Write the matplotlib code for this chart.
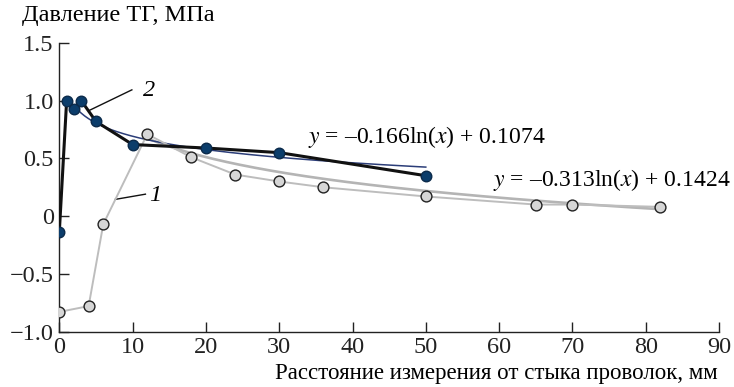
import numpy as np
import matplotlib
matplotlib.use("Agg")
import matplotlib.pyplot as plt

plt.rcParams['font.family'] = ['Liberation Serif', 'DejaVu Serif']
plt.rcParams['mathtext.fontset'] = 'stix'

# Series 1 (light gray)
x1 = [0, 4, 6, 12, 18, 24, 30, 36, 50, 65, 70, 82]
y1 = [-0.83, -0.78, -0.07, 0.71, 0.51, 0.36, 0.30, 0.25, 0.17, 0.10, 0.10, 0.08]
# Series 2 (dark blue)
x2 = [0, 1, 2, 3, 5, 10, 20, 30, 50]
y2 = [-0.14, 1.0, 0.93, 1.0, 0.82, 0.62, 0.59, 0.55, 0.35]

# Logarithmic trend lines (coefficients)
trend2_a, trend2_b, trend2_range = -0.166, 1.074, (2, 50)
trend1_a, trend1_b, trend1_range = -0.32, 1.47, (12, 81.5)

xticks = [0, 10, 20, 30, 40, 50, 60, 70, 80, 90]
yticks = [-1.0, -0.5, 0, 0.5, 1.0, 1.5]
yticklabels = ['−1.0', '−0.5', '0', '0.5', '1.0', '1.5']

FS = 17.5

fig = plt.figure(figsize=(7.34, 3.87), dpi=100)
ax = fig.add_axes([59.3 / 734, 1 - 331.5 / 387, (719 - 59.3) / 734, (331.5 - 43) / 387])

# trend lines
tx1 = np.linspace(*trend1_range, 200)
ax.plot(tx1, trend1_a * np.log(tx1) + trend1_b, color='#b4b4b4', lw=1.9, zorder=2)
tx2 = np.linspace(*trend2_range, 200)
ax.plot(tx2, trend2_a * np.log(tx2) + trend2_b, color='#2b3d78', lw=1.1, zorder=3)

# series
ax.plot(x1, y1, color='#bdbdbd', lw=1.4, marker='o', ms=7.8, mfc='#d6d6d6',
        mec='#222222', mew=1.0, zorder=4)
ax.plot(x2, y2, color='#111111', lw=2.2, marker='o', ms=7.6, mfc='#0b3d6b',
        mec='#0b2a4a', mew=1.0, zorder=5)

ax.set_xlim(0, 90)
ax.set_ylim(-1.0, 1.5)
ax.set_xticks(xticks)
ax.set_xticklabels([str(t) for t in xticks])
ax.set_yticks(yticks)
ax.set_yticklabels(yticklabels)
ax.tick_params(direction='in', length=7, width=1, labelsize=FS, colors='#222222', pad=4)
for s in ['top', 'right']:
    ax.spines[s].set_visible(False)
for s in ['left', 'bottom']:
    ax.spines[s].set_linewidth(1.0)
    ax.spines[s].set_color('#222222')

# curve labels
ax.plot([4.0, 9.9], [0.913, 1.094], color='#111111', lw=1.0)
ax.text(11.4, 1.09, '2', fontsize=FS, style='italic', va='center', ha='left')
ax.plot([7.65, 11.75], [0.145, 0.19], color='#111111', lw=1.0)
ax.text(12.3, 0.18, '1', fontsize=FS, style='italic', va='center', ha='left')

ax.text(33.9, 0.685, r'$y$ = –0.166ln($x$) + 0.1074', fontsize=17, va='center', ha='left')
ax.text(59.2, 0.31, r'$y$ = –0.313ln($x$) + 0.1424', fontsize=17, va='center', ha='left')

fig.text(22 / 734, 1 - 15 / 387, 'Давление ТГ, МПа', fontsize=FS, va='center', ha='left')
fig.text(718 / 734, 1 - 373 / 387, 'Расстояние измерения от стыка проволок, мм',
         fontsize=16.5, va='center', ha='right')

fig.savefig('out.png', dpi=100)
